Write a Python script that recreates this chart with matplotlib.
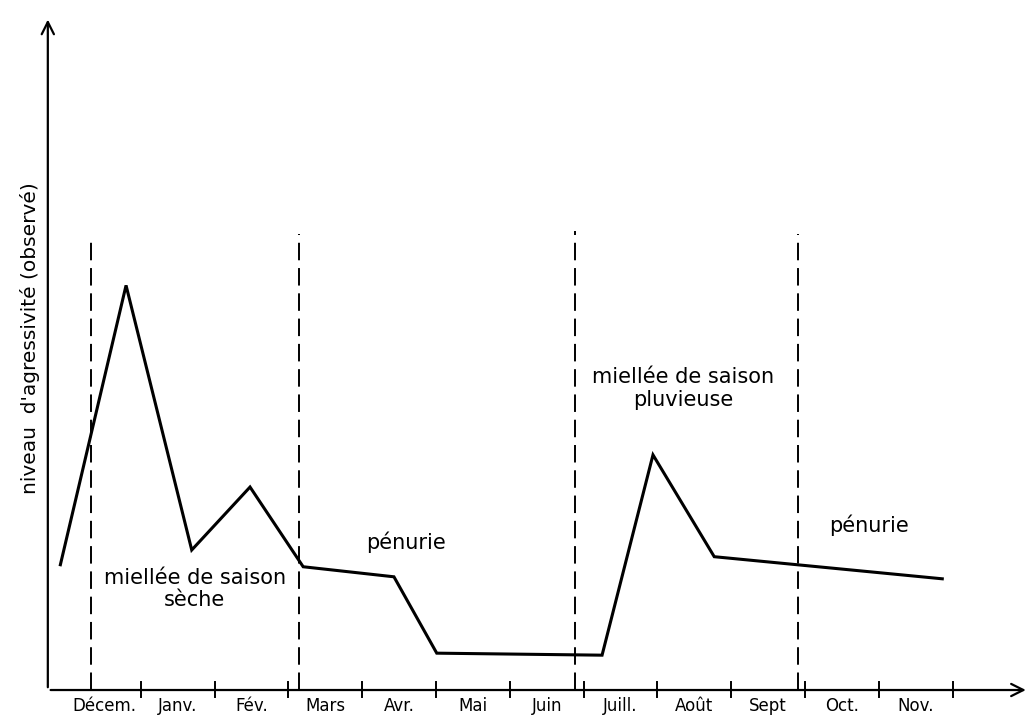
import matplotlib.pyplot as plt

# months along the time axis (each month one unit wide, Décem. = 0..1)
months = ['Décem.', 'Janv.', 'Fév.', 'Mars', 'Avr.', 'Mai', 'Juin',
          'Juill.', 'Août', 'Sept', 'Oct.', 'Nov.']
month_ticks = list(range(1, 13))

# observed aggressiveness level (arbitrary units) through the year
time = [-0.09, 0.80, 1.69, 2.48, 3.20, 4.43, 5.01, 7.25, 7.94, 8.77, 11.86]
level = [1.87, 6.04, 2.09, 3.03, 1.84, 1.69, 0.55, 0.52, 3.51, 1.99, 1.66]

# limits of the seasons (dashed lines)
season_limits = [0.33, 3.14, 6.88, 9.90]
season_top = [6.7, 6.8, 6.85, 6.8]

fig = plt.figure(figsize=(10.29, 7.15), dpi=100)
ax = fig.add_axes([0, 0, 1, 1])
ax.set_xlim(-0.908, 13.035)
ax.set_ylim(-0.373, 10.30)
ax.axis('off')

x0 = -0.26
# axes drawn by hand with open arrow heads
ax.annotate('', xy=(x0, 10.05), xytext=(x0, 0),
            arrowprops=dict(arrowstyle='->', lw=1.6, color='black', mutation_scale=22))
ax.annotate('', xy=(13.03, 0), xytext=(x0, 0),
            arrowprops=dict(arrowstyle='->', lw=1.6, color='black', mutation_scale=22))

for t in month_ticks:
    ax.plot([t, t], [-0.1, 0.12], color='black', lw=1.4)

for i, m in enumerate(months):
    ax.text(i + 0.5, -0.1, m, ha='center', va='top', fontsize=12)

for xs, top in zip(season_limits, season_top):
    ax.plot([xs, xs], [0, top], color='black', lw=1.4, ls=(0, (9, 4)))

ax.plot(time, level, color='black', lw=2.2, solid_joinstyle='miter')

ax.text(1.73, 1.82, 'miellée de saison\nsèche', ha='center', va='top',
        fontsize=15, linespacing=1.15)
ax.text(4.6, 2.05, 'pénurie', ha='center', va='bottom', fontsize=15)
ax.text(8.35, 4.18, 'miellée de saison\npluvieuse', ha='center', va='bottom',
        fontsize=15, linespacing=1.2)
ax.text(10.87, 2.3, 'pénurie', ha='center', va='bottom', fontsize=15)

ax.text(-0.5, 5.26, "niveau  d'agressivité (observé)", rotation=90,
        ha='center', va='center', fontsize=14.5)

fig.savefig('out.png', dpi=100)
